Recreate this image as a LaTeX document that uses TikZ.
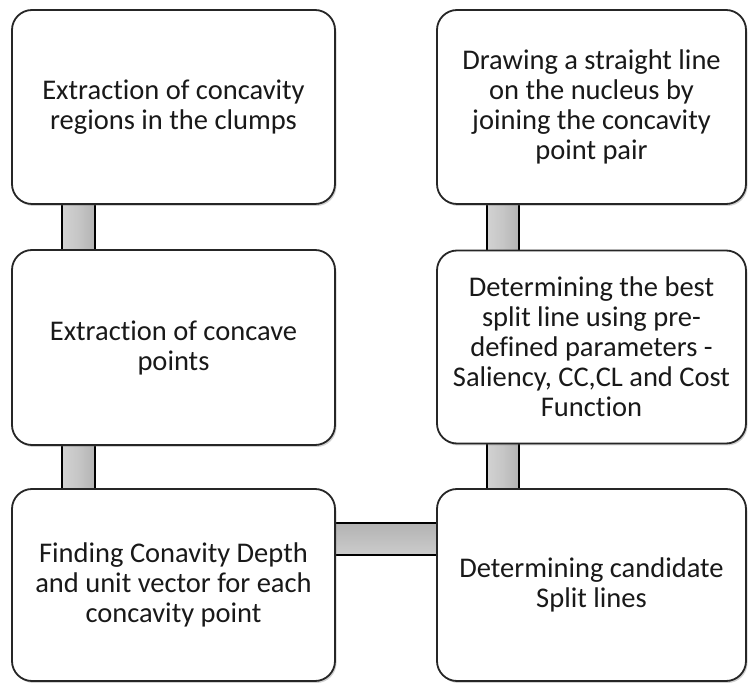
\documentclass[tikz,border=0pt]{standalone}
\usepackage{fontspec}
\setmainfont{Carlito}[Ligatures={NoCommon}]
\usetikzlibrary{calc,shadows}
\pgfdeclarelayer{bg}
\pgfsetlayers{bg,main}
\begin{document}
\begin{tikzpicture}[x=1pt,y=-1pt,
  stepbox/.style={draw=black!85, line width=1.8pt, fill=white, rounded corners=20pt,
    align=center, inner sep=0pt, text=black!90,
    font=\fontsize{28.5pt}{30pt}\selectfont,
    drop shadow={shadow xshift=1.5pt, shadow yshift=-2pt, opacity=0.3, fill=black!60}},
  vbar/.style={draw=black, line width=2pt, left color=gray!35, right color=gray!60, middle color=gray!45},
  hbar/.style={draw=black, line width=2pt, top color=gray!60, bottom color=gray!40}]
\useasboundingbox (0,0) rectangle (748,684);
% nodes
\node[stepbox, minimum width=323pt, minimum height=194pt] (a) at (173.5,107)
  {Extraction of concavity\\regions in the clumps};
\node[stepbox, minimum width=323pt, minimum height=195pt] (b) at (173.5,347.5)
  {Extraction of concave\\points};
\node[stepbox, minimum width=323pt, minimum height=192pt] (c) at (173.5,585)
  {Finding Conavity Depth\\and unit vector for each\\concavity point};
\node[stepbox, minimum width=309pt, minimum height=194pt] (d) at (591.5,107)
  {Drawing a straight line\\on the nucleus by\\joining the concavity\\point pair};
\node[stepbox, minimum width=309pt, minimum height=193pt] (e) at (591.5,347)
  {Determining the best\\split line using pre-\\defined parameters -\\Saliency, CC,CL and Cost\\Function};
\node[stepbox, minimum width=309pt, minimum height=192pt] (f) at (591.5,585)
  {Determining candidate\\Split lines};
% connectors (behind the boxes)
\begin{pgfonlayer}{bg}
\draw[vbar] ($(a.south west)+(51,-2)$) rectangle ($(b.north west)+(84,2)$);
\draw[vbar] ($(b.south west)+(51,-2)$) rectangle ($(c.north west)+(84,2)$);
\draw[vbar] ($(d.south west)+(51,-2)$) rectangle ($(e.north west)+(83,2)$);
\draw[vbar] ($(e.south west)+(51,-2)$) rectangle ($(f.north west)+(83,2)$);
\draw[hbar] ($(c.east)+(-2,-62)$) rectangle ($(f.west)+(2,-30)$);
\end{pgfonlayer}
\end{tikzpicture}
\end{document}
